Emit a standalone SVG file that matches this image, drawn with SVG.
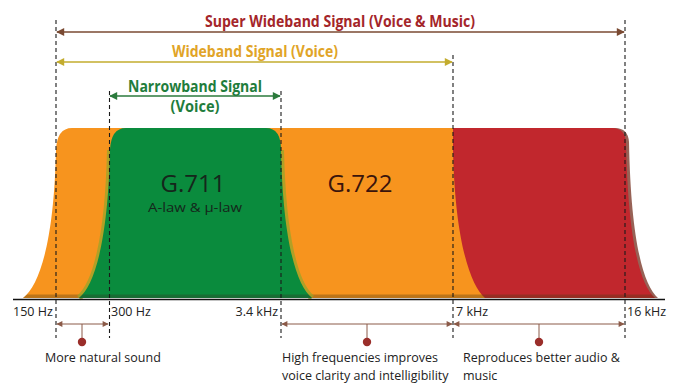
<svg xmlns="http://www.w3.org/2000/svg" width="680" height="392" viewBox="0 0 680 392">
<style>
.title{font-family:"Open Sans","Liberation Sans",sans-serif;font-weight:700;font-size:16px}
.lbl{font-family:"Open Sans","Liberation Sans",sans-serif;font-size:12.5px;fill:#222}
.big{font-family:"Open Sans","Liberation Sans",sans-serif;font-size:24px}
.dash{stroke:#1a1a1a;stroke-width:1.1;stroke-dasharray:4 3;fill:none}
.small{stroke:#8b5a48;stroke-width:1;fill:none}
.dot{fill:#9a2e2a}
.edge{fill:none;stroke:#9aa42a;stroke-width:6;opacity:0.75}
</style>
<defs>
<marker id="hb" viewBox="0 0 10 10" refX="9" refY="5" markerWidth="10" markerHeight="8" markerUnits="userSpaceOnUse" orient="auto-start-reverse"><path d="M0,0 L10,5 L0,10 Z" fill="#7a4a32"/></marker>
<marker id="hw" viewBox="0 0 10 10" refX="9" refY="5" markerWidth="10" markerHeight="8" markerUnits="userSpaceOnUse" orient="auto-start-reverse"><path d="M0,0 L10,5 L0,10 Z" fill="#c3ac2e"/></marker>
<marker id="hn" viewBox="0 0 10 10" refX="9" refY="5" markerWidth="10" markerHeight="8" markerUnits="userSpaceOnUse" orient="auto-start-reverse"><path d="M0,0 L10,5 L0,10 Z" fill="#2b7a3c"/></marker>
<marker id="hs" viewBox="0 0 10 10" refX="9" refY="5" markerWidth="7" markerHeight="6" markerUnits="userSpaceOnUse" orient="auto-start-reverse"><path d="M0,0 L10,5 L0,10 Z" fill="#8b5a48"/></marker>
<clipPath id="bands">
<path d="M23,298 C40,285 54,240 56,150 Q57,128 72,128 L500,128 L500,298 Z"/>
<path d="M485,298 C470,285 455,240 453,150 L453,128 L612,128 Q625,128 626,142 C628,240 640,285 655,298 Z"/>
</clipPath>
<clipPath id="greenclip">
<path d="M79,298 C95,285 108,240 110,150 Q111,128 126,128 L266,128 Q281,128 281,150 C283,240 296,285 312,298 Z"/>
</clipPath>
</defs>
<g id="band-wideband">
<path d="M23,298 C40,285 54,240 56,150 Q57,128 72,128 L500,128 L500,298 Z" fill="#f7941e"/>
</g>
<g id="band-superwideband">
<path d="M485,298 C470,285 455,240 453,150 L453,128 L612,128 Q625,128 626,142 C628,240 640,285 655,298 Z" fill="#7d3b2c" transform="translate(3,0)" opacity="0.8"/>
<path d="M485,298 C470,285 455,240 453,150 L453,128 L612,128 Q625,128 626,142 C628,240 640,285 655,298 Z" fill="#c1272d"/>
</g>
<rect x="20" y="294.5" width="640" height="4" fill="#4a3a10" opacity="0.35" clip-path="url(#bands)"/>
<g id="band-narrowband">
<path class="edge" d="M79,298 C95,285 108,240 110,150"/>
<path class="edge" d="M281,150 C283,240 296,285 312,298"/>
<path d="M79,298 C95,285 108,240 110,150 Q111,128 126,128 L266,128 Q281,128 281,150 C283,240 296,285 312,298 Z" fill="#0a8b3d"/>
<rect x="76" y="294.5" width="240" height="4" fill="#2a4a2a" opacity="0.45" clip-path="url(#greenclip)"/>
<text class="big" x="193" y="192" text-anchor="middle" fill="#15261b">G.711</text>
<text x="195" y="212" text-anchor="middle" fill="#15261b" font-family="Open Sans, Liberation Sans, sans-serif" font-size="13.5" textLength="94" lengthAdjust="spacingAndGlyphs">A-law &amp; µ-law</text>
</g>
<g id="g722">
<text class="big" x="360" y="192" text-anchor="middle" fill="#3a140c">G.722</text>
</g>
<g id="connectors">
<line x1="13" y1="299.5" x2="665" y2="299.5" stroke="#111" stroke-width="1.3"/>
<line class="dash" x1="56" y1="20" x2="56" y2="338"/>
<line class="dash" x1="109.5" y1="91" x2="109.5" y2="338"/>
<line class="dash" x1="281" y1="91" x2="281" y2="338"/>
<line class="dash" x1="453" y1="55" x2="453" y2="338"/>
<line class="dash" x1="625" y1="20" x2="625" y2="338"/>
<line x1="57" y1="32" x2="624" y2="32" stroke="#7a4a32" stroke-width="1.5" marker-start="url(#hb)" marker-end="url(#hb)"/>
<line x1="57" y1="62" x2="452" y2="62" stroke="#c3ac2e" stroke-width="1.5" marker-start="url(#hw)" marker-end="url(#hw)"/>
<line x1="110" y1="96" x2="280" y2="96" stroke="#2b7a3c" stroke-width="1.5" marker-start="url(#hn)" marker-end="url(#hn)"/>
<line class="small" x1="57" y1="324" x2="108" y2="324" marker-start="url(#hs)" marker-end="url(#hs)"/>
<line class="small" x1="282" y1="324" x2="452" y2="324" marker-start="url(#hs)" marker-end="url(#hs)"/>
<line class="small" x1="454" y1="324" x2="624" y2="324" marker-start="url(#hs)" marker-end="url(#hs)"/>
<line class="small" x1="82" y1="324" x2="82" y2="339"/>
<line class="small" x1="367" y1="324" x2="367" y2="339"/>
<line class="small" x1="539" y1="324" x2="539" y2="339"/>
<circle class="dot" cx="82" cy="342" r="4.2"/>
<circle class="dot" cx="367" cy="342" r="4.2"/>
<circle class="dot" cx="539" cy="342" r="4.2"/>
</g>
<g id="titles">
<text class="title" x="340" y="27" text-anchor="middle" fill="#a4252a" textLength="270" lengthAdjust="spacingAndGlyphs">Super Wideband Signal (Voice &amp; Music)</text>
<text class="title" x="255" y="57" text-anchor="middle" fill="#e1a427" textLength="166" lengthAdjust="spacingAndGlyphs">Wideband Signal (Voice)</text>
<text class="title" x="195" y="92" text-anchor="middle" fill="#1f7d3c" textLength="134" lengthAdjust="spacingAndGlyphs">Narrowband Signal</text>
<text class="title" x="195" y="112" text-anchor="middle" fill="#1f7d3c" textLength="49" lengthAdjust="spacingAndGlyphs">(Voice)</text>
</g>
<g id="axis-labels">
<text class="lbl" x="13" y="316">150 Hz</text>
<text class="lbl" x="111" y="316">300 Hz</text>
<text class="lbl" x="278" y="316" text-anchor="end">3.4 kHz</text>
<text class="lbl" x="456" y="316">7 kHz</text>
<text class="lbl" x="627" y="316">16 kHz</text>
</g>
<g id="notes">
<text class="lbl" x="45" y="362">More natural sound</text>
<text class="lbl" x="282" y="362">High frequencies improves</text>
<text class="lbl" x="282" y="380">voice clarity and intelligibility</text>
<text class="lbl" x="463" y="362">Reproduces better audio &amp;</text>
<text class="lbl" x="463" y="380">music</text>
</g>
</svg>
